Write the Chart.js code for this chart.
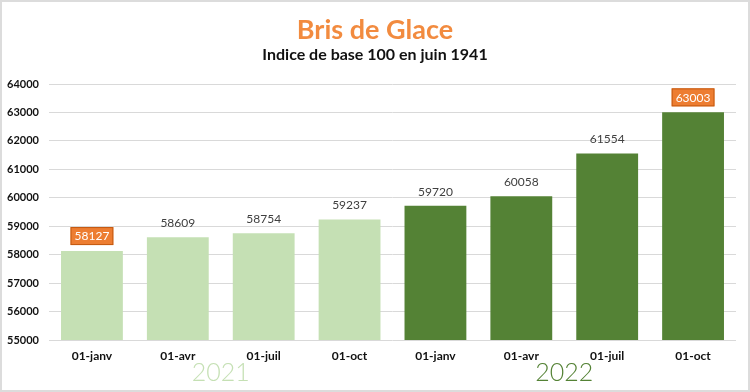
<!DOCTYPE html>
<html><head><meta charset="utf-8">
<script src="https://cdn.jsdelivr.net/npm/chart.js@4"></script>
<style>
html,body{margin:0;padding:0;background:#fff;}
#wrap{width:746px;height:388px;border:2px solid #dcdcdc;position:relative;}
canvas{display:block;}
</style></head><body>
<div id="wrap"><canvas id="c" width="746" height="388"></canvas></div>
<script>
const categories = ["01-janv","01-avr","01-juil","01-oct","01-janv","01-avr","01-juil","01-oct"];
const values = [58127, 58609, 58754, 59237, 59720, 60058, 61554, 63003];
const years = ["2021", "2022"];
const highlighted = [0, 7];
const barColors = ["#c5e0b4","#c5e0b4","#c5e0b4","#c5e0b4","#548235","#548235","#548235","#548235"];
const yearColors = ["#c5e0b4", "#548235"];
const FONT = "Lato, 'Open Sans', sans-serif";

const deco = {
  id: 'deco',
  afterDraw(chart) {
    const ctx = chart.ctx;
    const w = chart.width;
    ctx.save();
    ctx.textAlign = 'center';
    ctx.textBaseline = 'middle';
    ctx.fillStyle = '#f28b3f';
    ctx.font = "bold 27px " + FONT;
    ctx.fillText("Bris de Glace", w / 2, 28);
    ctx.fillStyle = '#111';
    ctx.font = "bold 16px " + FONT;
    ctx.fillText("Indice de base 100 en juin 1941", w / 2, 53);

    const meta = chart.getDatasetMeta(0);
    meta.data.forEach((bar, i) => {
      const txt = String(values[i]);
      ctx.font = "12px " + FONT;
      if (highlighted.includes(i)) {
        const tw = ctx.measureText(txt).width;
        const bw = tw + 8, bh = 18;
        const by = bar.y - 6 - bh;
        ctx.fillStyle = '#ed7d31';
        ctx.fillRect(bar.x - bw / 2, by, bw, bh);
        ctx.strokeStyle = '#c55a11';
        ctx.lineWidth = 1;
        ctx.strokeRect(bar.x - bw / 2 + 0.5, by + 0.5, bw - 1, bh - 1);
        ctx.fillStyle = '#fff';
        ctx.fillText(txt, bar.x, by + bh / 2 + 0.5);
      } else {
        ctx.fillStyle = '#404040';
        ctx.fillText(txt, bar.x, bar.y - 14);
      }
    });

    const xs = chart.scales.x;
    ctx.font = "300 25px " + FONT;
    years.forEach((y, k) => {
      const x = xs.getPixelForValue(k * 4 + 1.5);
      ctx.fillStyle = yearColors[k];
      ctx.fillText(y, x, 371);
    });
    ctx.restore();
  }
};

new Chart(document.getElementById('c'), {
  type: 'bar',
  data: {
    labels: categories,
    datasets: [{
      data: values,
      backgroundColor: barColors,
      borderWidth: 0,
      barPercentage: 0.72,
      categoryPercentage: 1.0
    }]
  },
  options: {
    responsive: false,
    animation: false,
    devicePixelRatio: 1,
    layout: { padding: { top: 82, right: 12, left: 0, bottom: 0 } },
    plugins: { legend: { display: false }, title: { display: false }, tooltip: { enabled: false } },
    scales: {
      x: {
        grid: { display: false, drawTicks: false },
        border: { display: false },
        ticks: { color: '#111', font: { family: FONT, size: 12, weight: 'bold' }, padding: 9, maxRotation: 0 },
        afterFit(s) { s.height = 50; }
      },
      y: {
        min: 55000, max: 64000,
        grid: { color: '#d9d9d9', drawTicks: false },
        border: { display: false },
        ticks: { stepSize: 1000, color: '#111', font: { family: FONT, size: 11, weight: 'bold' }, padding: 10,
                 callback: v => String(v) },
        afterFit(s) { s.width = 47; }
      }
    }
  },
  plugins: [deco]
});
</script>
</body></html>
